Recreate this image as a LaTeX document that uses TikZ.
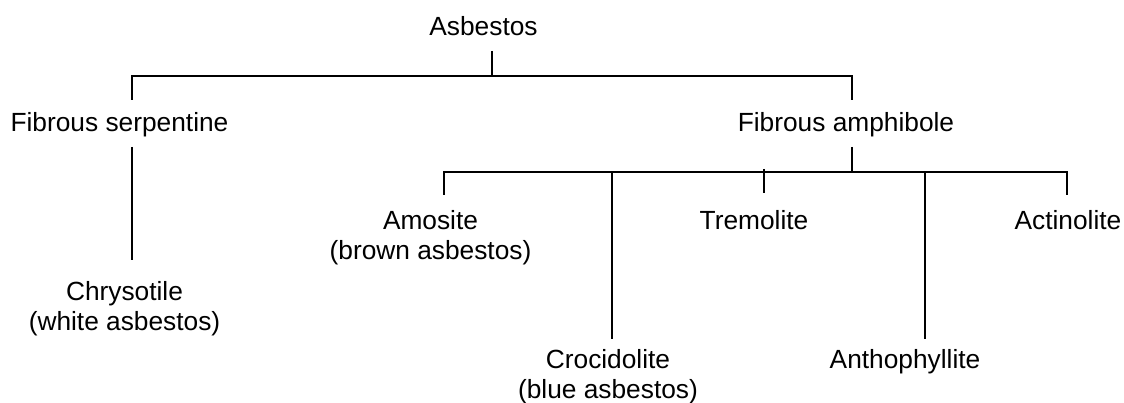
\documentclass[tikz,border=0pt]{standalone}
\usepackage{fontspec}
\setmainfont{Liberation Sans}
\begin{document}
\begin{tikzpicture}[x=1pt,y=-1pt,
  lbl/.style={anchor=base,inner sep=0pt,font=\fontsize{26.3}{30}\selectfont},
  conn/.style={draw=black,line width=1.8pt}]
\useasboundingbox (0,0) rectangle (1124,403);
% labels
\node[lbl] (as) at (483.5,36) {Asbestos};
\node[lbl] (fs) at (119.5,132) {Fibrous serpentine};
\node[lbl] (fa) at (846,132) {Fibrous amphibole};
\node[lbl] (ch) at (124.5,301) {\begin{tabular}[t]{@{}c@{}}Chrysotile\\(white asbestos)\end{tabular}};
\node[lbl] (am) at (430.5,230) {\begin{tabular}[t]{@{}c@{}}Amosite\\(brown asbestos)\end{tabular}};
\node[lbl] (cr) at (608,368) {\begin{tabular}[t]{@{}c@{}}Crocidolite\\(blue asbestos)\end{tabular}};
\node[lbl] (tr) at (754,230) {Tremolite};
\node[lbl] (an) at (905,368) {Anthophyllite};
\node[lbl] (ac) at (1068,230) {Actinolite};
% bus points
\coordinate (j1) at (492,76);
\coordinate (j1l) at (132,76);
\coordinate (j1r) at (852,76);
\coordinate (j2) at (852,172);
\coordinate (j2am) at (444,172);
\coordinate (j2cr) at (612,172);
\coordinate (j2tr) at (764,169);
\coordinate (j2an) at (925,172);
\coordinate (j2ac) at (1067,172);
% connectors
\draw[conn] ([yshift=-15pt]as.base -| j1) -- (j1);
\draw[conn] ([yshift=32pt]fs.base -| j1l) -- (j1l) -- (j1r) -- ([yshift=32pt]fa.base -| j1r);
\draw[conn] ([yshift=-15pt]fs.base -| j1l) -- ([yshift=41pt]ch.base -| j1l);
\draw[conn] ([yshift=-15pt]fa.base -| j2) -- (j2);
\draw[conn] ([yshift=35pt]am.base -| j2am) -- (j2am) -- (j2ac) -- ([yshift=35pt]ac.base -| j2ac);
\draw[conn] (j2cr) -- ([yshift=29pt]cr.base -| j2cr);
\draw[conn] (j2tr) -- ([yshift=37pt]tr.base -| j2tr);
\draw[conn] (j2an) -- ([yshift=29pt]an.base -| j2an);
\end{tikzpicture}
\end{document}
